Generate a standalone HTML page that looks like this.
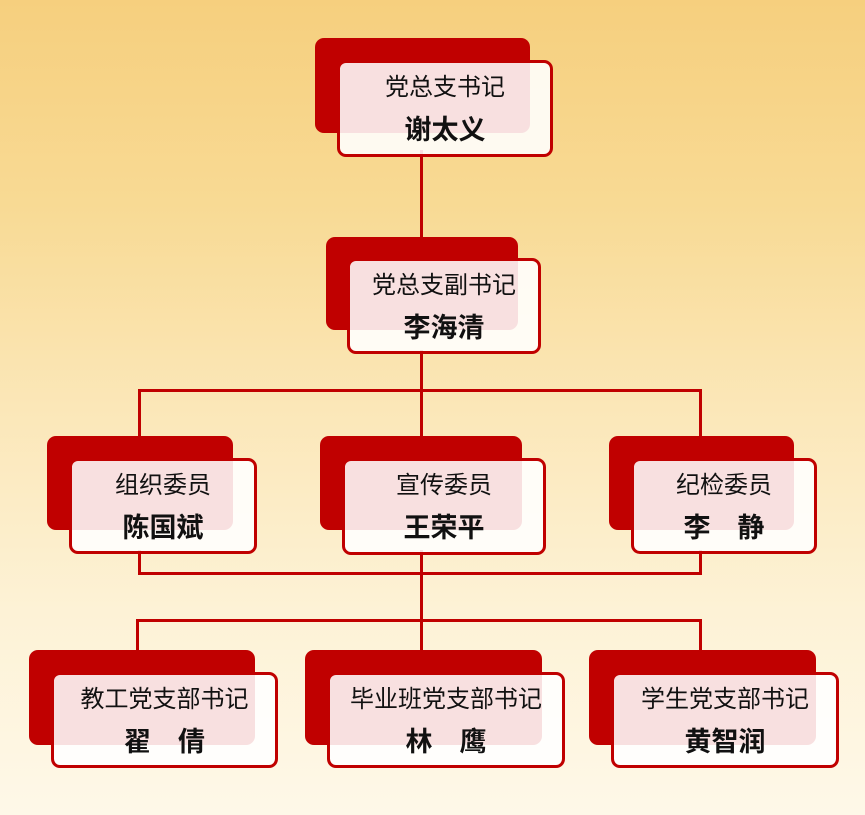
<!DOCTYPE html>
<html><head><meta charset="utf-8"><style>
html,body{margin:0;padding:0}
body{width:865px;height:815px;position:relative;overflow:hidden;
background:linear-gradient(180deg,#f6cf7e 0%,#f8da94 25%,#fbe7b8 50%,#fdf2d6 75%,#fef8e8 100%);
font-family:"Liberation Sans","Noto Sans CJK SC",sans-serif;}
.l{position:absolute;background:#c00000}
.b{position:absolute;background:#c00000;border-radius:9px}
.f{position:absolute;box-sizing:border-box;border:3px solid #c00000;border-radius:9px;background:rgba(255,255,255,0.88);text-align:center;color:#111}
.t{font-size:24px;margin-top:11px;line-height:28px}
.n{font-size:27px;font-weight:bold;margin-top:13px;line-height:30px}
</style></head><body>
<div class="l" style="left:420px;top:150px;width:3px;height:110px"></div>
<div class="l" style="left:420px;top:350px;width:3px;height:42px"></div>
<div class="l" style="left:138px;top:389px;width:564px;height:3px"></div>
<div class="l" style="left:138px;top:389px;width:3px;height:72px"></div>
<div class="l" style="left:699px;top:389px;width:3px;height:72px"></div>
<div class="l" style="left:420px;top:389px;width:3px;height:72px"></div>
<div class="l" style="left:138px;top:550px;width:3px;height:24px"></div>
<div class="l" style="left:699px;top:550px;width:3px;height:24px"></div>
<div class="l" style="left:138px;top:572px;width:564px;height:3px"></div>
<div class="l" style="left:420px;top:550px;width:3px;height:72px"></div>
<div class="l" style="left:136px;top:619px;width:566px;height:3px"></div>
<div class="l" style="left:136px;top:619px;width:3px;height:56px"></div>
<div class="l" style="left:420px;top:619px;width:3px;height:56px"></div>
<div class="l" style="left:699px;top:619px;width:3px;height:56px"></div>

<div class="b" style="left:315px;top:38px;width:215px;height:95px"></div>
<div class="f" style="left:337px;top:60px;width:216px;height:97px"><div class="t">党总支书记</div><div class="n">谢太义</div></div>

<div class="b" style="left:326px;top:237px;width:192px;height:93px"></div>
<div class="f" style="left:347px;top:258px;width:194px;height:96px"><div class="t">党总支副书记</div><div class="n">李海清</div></div>

<div class="b" style="left:47px;top:436px;width:186px;height:94px"></div>
<div class="f" style="left:69px;top:458px;width:188px;height:96px"><div class="t">组织委员</div><div class="n">陈国斌</div></div>

<div class="b" style="left:320px;top:436px;width:202px;height:94px"></div>
<div class="f" style="left:342px;top:458px;width:204px;height:97px"><div class="t">宣传委员</div><div class="n">王荣平</div></div>

<div class="b" style="left:609px;top:436px;width:185px;height:94px"></div>
<div class="f" style="left:631px;top:458px;width:186px;height:96px"><div class="t">纪检委员</div><div class="n">李&emsp;静</div></div>

<div class="b" style="left:29px;top:650px;width:226px;height:95px"></div>
<div class="f" style="left:51px;top:672px;width:227px;height:96px"><div class="t">教工党支部书记</div><div class="n">翟&emsp;倩</div></div>

<div class="b" style="left:305px;top:650px;width:237px;height:95px"></div>
<div class="f" style="left:327px;top:672px;width:238px;height:96px"><div class="t">毕业班党支部书记</div><div class="n">林&emsp;鹰</div></div>

<div class="b" style="left:589px;top:650px;width:227px;height:95px"></div>
<div class="f" style="left:611px;top:672px;width:228px;height:96px"><div class="t">学生党支部书记</div><div class="n">黄智润</div></div>
</body></html>
